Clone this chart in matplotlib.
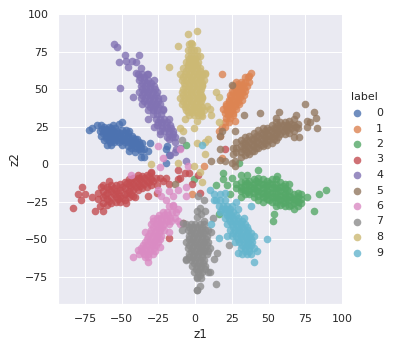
import matplotlib
matplotlib.use('Agg')
import matplotlib.pyplot as plt
import seaborn as sns

## z1, z2 values, one list per label
label_0 = [(-72.5,23),(-70,24),(-67,26),(-64,26),(-62,25),(-59,25),(-56,26),(-52,27),(-50,28),(-65,22),(-62,22),(-59,22),
           (-56,22),(-53,22),(-50,23),(-47,23),(-45,22),(-64,19),(-61,19),(-58,19),(-55,19),(-52,19),(-49,19),(-46,19),
           (-43,19),(-41,17),(-62,16),(-59,16),(-56,16),(-53,16),(-50,16),(-47,16),(-44,16),(-41,15),(-38,15),(-36,14),
           (-60,13),(-57,13),(-50,13),(-46,12),(-43,13),(-40,12),(-37,11),(-35,10),(-45,9),(-41,8),(-37,9),(-37,5),(-35,5),
           (-31,14),(-32,9),(-20,10),(-18,6),(-20,1),(-19,12),
           (-63.5,23.5),(-60.5,23.7),(-57.5,23.8),(-54.5,24),(-51.5,21),(-48.5,21),(-45.5,20.5),(-63,20.5),(-60,20.6),(-57,20.4),
           (-54,20.7),(-60.5,17.5),(-57.5,17.6),(-54.5,17.4),(-51.5,17.5),(-48.5,17.6),(-45.5,17.5),(-42.5,17.4),(-39.5,16.5),
           (-58,14.5),(-55,14.6),(-52,14.4),(-48,14.5),(-45,14.4),(-42,14.3),(-39,13.5),(-37.5,12.8),(-44,10.7),(-41,10.5),(-38.5,10)]
label_1 = [(38,61),(37,59),(18,60),(34,58),(36,58),(28,55),(31,55),(34,55),(37,55),(26,52),(29,52),(32,52),(35,52),
           (25,49),(28,49),(31,49),(34,49),(24,46),(27,46),(30,46),(33,46),(23,43),(26,43),(29,43),(32,43),(21,40),
           (24,40),(27,40),(30,40),(19,37),(22,37),(25,37),(28,37),(20,34),(23,34),(26,34),(21,31),(24,31),(27,29),
           (20,28),(23,28),(18,25),(20,25),(16,22),(17,19),(18,4),(6,-1),(-2,-20),
           (29.5,53.5),(32.5,53.4),(27.5,50.5),(30.5,50.6),(33.5,50.4),(26,47.5),(29,47.6),(32,47.4),(24.5,44.5),(27.5,44.4),
           (30.5,44.6),(23,41.5),(26,41.4),(29,41.6),(21,38.5),(24,38.4),(27,38.6),(21.5,35.5),(24.5,35.6),(22.5,32.5),(25.5,32.4)]
label_2 = [(28,-13),(28,-16),(31,-12),(31,-15),(31,-18),(34,-11),(34,-14),(34,-17),(34,-20),(37,-11),(37,-14),(37,-17),
           (37,-20),(40,-10),(40,-13),(40,-16),(40,-19),(40,-22),(43,-9),(43,-12),(43,-15),(43,-18),(43,-21),(43,-24),
           (46,-10),(46,-13),(46,-16),(46,-19),(46,-22),(46,-25),(49,-11),(49,-14),(49,-17),(49,-20),(49,-23),(52,-10),
           (52,-13),(52,-16),(52,-19),(52,-22),(52,-25),(55,-10),(55,-13),(55,-16),(55,-19),(55,-22),(55,-25),(55,-28),
           (58,-12),(58,-15),(58,-18),(58,-21),(58,-24),(58,-27),(61,-13),(61,-16),(61,-19),(61,-22),(61,-25),(61,-28),
           (64,-18),(64,-21),(64,-24),(64,-28),(67,-20),(67,-23),(67,-26),(67,-30),(70,-19),(70,-22),(70,-25),(70,-28),
           (72,-20),(72,-23),(72,-26),(89,-17),(84,-20),(81,-31),(76,-22),(54,-33),(53,-38),(43,-4),(56,-8),(64,-13),
           (35,-7),(31,-7),(19,-6),(19,-10),(14,-14),(25,-9),(22,-14),(31,-22),(24,-20),(16,-33),(30,1),(-1,-10),(-6,13),
           (35.5,-12.5),(38.5,-15.5),(41.5,-11.5),(41.5,-17.5),(44.5,-13.5),(44.5,-19.5),(47.5,-15),(47.5,-21),(50.5,-12.5),
           (50.5,-18.5),(50.5,-24),(53.5,-15),(53.5,-21),(56.5,-17),(56.5,-23),(59.5,-14.5),(59.5,-20.5),(59.5,-26),(62.5,-17.5),
           (62.5,-23.5),(65.5,-22),(65.5,-27),(68.5,-24),(32,-16.5),(36,-18.5)]
label_3 = [(-83,-29),(-80,-20),(-77,-15),(-78,-24),(-75,-20),(-70,-22),(-68,-31),(-63,-31),(-65,-28),(-59,-11),(-64,-15),
           (-39,-7),(-30,-5),(-24,-9),(-20,-9),(-18,-13),(-12,-4),(-7,-6),(-4,-6),(-12,-10),(-10,-9),(-2,-13),(2,-7),
           (-32,-21),(-26,-19),(-47,-26),(-41,-22),(-18,-49),(-8,-39),(20,10),(3,-19),(-66,-19),(-66,-23),(-63,-14),
           (-63,-18),(-63,-22),(-63,-26),(-60,-15),(-60,-19),(-60,-23),(-60,-27),(-57,-14),(-57,-18),(-57,-22),(-57,-26),
           (-54,-14),(-54,-18),(-54,-22),(-54,-25),(-51,-13),(-51,-17),(-51,-21),(-51,-25),(-48,-12),(-48,-16),(-48,-20),
           (-48,-24),(-45,-10),(-45,-14),(-45,-18),(-45,-22),(-42,-9),(-42,-13),(-42,-17),(-42,-21),(-39,-9),(-39,-13),
           (-39,-17),(-36,-8),(-36,-12),(-36,-16),(-33,-7),(-33,-11),(-33,-15),(-30,-6),(-30,-10),(-30,-14),(-27,-9),
           (-26,-14),(-22,-11),
           (-61.5,-20.5),(-58.5,-16.5),(-58.5,-24.5),(-55.5,-20),(-55.5,-16),(-52.5,-19),(-52.5,-23),(-49.5,-15),(-49.5,-22.5),
           (-46.5,-12.5),(-46.5,-19),(-43.5,-11.5),(-43.5,-15.5),(-43.5,-20),(-40.5,-11),(-40.5,-15),(-37.5,-10),(-37.5,-14.5),
           (-34.5,-9),(-34.5,-13),(-31.5,-8),(-31.5,-12),(-28.5,-11.5)]
label_4 = [(-55,80),(-53,78),(-48,73),(-38,73),(-52,68),(-46,65),(-47,69),(-43,69),(-40,68),(-37,64),(-40,61),(-32,60),
           (-28,56),(-51,51),(-42,45),(-22,44),(-22,37),(-32,30),(-28,25),(-24,20),(-18,17),(-14,15),(-17,6),(-14,8),(-6,2),
           (-39,60),(-36,60),(-33,60),(-38,56),(-35,56),(-32,56),(-37,52),(-34,52),(-31,52),(-28,52),(-38,48),(-35,48),
           (-32,48),(-29,48),(-26,48),(-37,44),(-34,44),(-31,44),(-28,44),(-25,44),(-36,40),(-33,40),(-30,40),(-27,40),
           (-24,40),(-32,36),(-29,36),(-26,36),(-22,36),(-27,30),(-24,30),(-21,30),(-18,30),(-26,26),(-23,26),(-20,26),
           (-17,26),(-24,22),(-21,22),(-18,22),(-15,22),(-19,18),(-16,18),(-14,18),(-10,11),(-13,10),
           (-37.5,58),(-34.5,58),(-36,54),(-33,54),(-30,54),(-36.5,50),(-33.5,50),(-30.5,50),(-27.5,50),(-36,46),(-33,46),
           (-30,46),(-27,46),(-34.5,42),(-31.5,42),(-28.5,42),(-25.5,42),(-31,38),(-28,38),(-25,38),(-29,33.5),(-26,33.5),(-23,33.5),
           (-25.5,28),(-22.5,28),(-19.5,28),(-22.5,24),(-19.5,24),(-16.5,24),(-18,20),(-15,20)]
label_5 = [(75,40),(81,35),(82,31),(83,24),(57,35),(44,34),(33,33),(55,31),(69,33),(25,53),(27,22),(18,22),(17,19),(17,10),
           (17,3),(11,2),(20,2),(27,2),(26,7),(28,15),(26,11),(71,18),(67,18),(76,25),(78,28),(76,29),(-14,-13),
           (28,11),(28,8),(31,16),(31,12),(31,8),(31,5),(34,18),(34,14),(34,10),(34,6),(37,19),(37,15),(37,11),(37,7),
           (40,21),(40,17),(40,13),(40,9),(43,23),(43,19),(43,15),(43,11),(46,24),(46,20),(46,16),(46,12),(49,24),(49,20),
           (49,16),(49,13),(52,26),(52,22),(52,18),(52,14),(55,28),(55,24),(55,20),(55,16),(58,28),(58,24),(58,20),(61,28),
           (61,24),(61,20),(64,29),(64,25),(64,21),(67,30),(67,26),(67,22),(70,27),(70,24),(27,-1),(25,1),
           (32.5,14),(32.5,10),(35.5,16),(35.5,12),(35.5,8),(38.5,17),(38.5,13),(38.5,9),(41.5,19),(41.5,15),(41.5,11),(44.5,21),
           (44.5,17),(44.5,13),(47.5,22),(47.5,18),(47.5,14),(50.5,23),(50.5,19),(50.5,16),(53.5,24),(53.5,20),(53.5,17),(56.5,26),
           (56.5,22),(56.5,18),(59.5,26),(59.5,22),(62.5,26),(62.5,23),(65.5,27),(65.5,24),(68.5,25)]
label_6 = [(-42,-62),(-32,-65),(-39,-57),(-24,-55),(-34,-45),(-18,-45),(-12,-38),(-10,-40),(-12,-30),(-15,-27),(-15,-21),
           (-18,-18),(-25,-17),(-23,-21),(-20,-24),(-44,-7),(-22,4),(-24,-2),(-5,-1),(-6,-21),(-6,-15),(-12,-17),(-25,12),
           (-10,10),(-18,-28),(-15,-28),(-22,-32),(-19,-32),(-16,-32),(-13,-32),(-29,-36),(-26,-36),(-23,-36),(-20,-36),
           (-17,-36),(-14,-36),(-30,-40),(-27,-40),(-24,-40),(-21,-40),(-18,-40),(-30,-44),(-27,-44),(-24,-44),(-21,-44),
           (-32,-48),(-29,-48),(-26,-48),(-23,-48),(-34,-52),(-31,-52),(-28,-52),(-25,-52),(-37,-56),(-34,-56),(-31,-56),
           (-28,-56),(-38,-60),(-35,-60),(-32,-60),(-29,-60),(-34,-62),(-32,-62),
           (-24.5,-34),(-21.5,-34),(-18.5,-34),(-28.5,-38),(-25.5,-38),(-22.5,-38),(-19.5,-38),(-16.5,-38),(-28.5,-42),(-25.5,-42),
           (-22.5,-42),(-30.5,-46),(-27.5,-46),(-24.5,-46),(-33,-50),(-30,-50),(-27,-50),(-24,-50),(-35.5,-54),(-32.5,-54),(-29.5,-54),
           (-26.5,-54),(-36.5,-58),(-33.5,-58),(-30.5,-58),(-27.5,-58)]
label_7 = [(-8,-39),(-9,-44),(-6,-63),(1,-84),(1,-75),(14,-80),(3,-81),(1,-84),(10,-72),(13,-63),(15,-59),(23,-54),(11,-45),
           (12,-36),(6,-38),(7,-31),(6,-24),(2,-21),(1,-31),(3,-29),(4,-33),(1,-35),(-9,16),
           (-6,-40),(-3,-40),(0,-40),(3,-40),(6,-40),(-5,-44),(-2,-44),(1,-44),(4,-44),(7,-44),(9,-44),(-4,-48),(-1,-48),
           (2,-48),(5,-48),(8,-48),(-6,-52),(-3,-52),(0,-52),(3,-52),(6,-52),(9,-52),(-5,-56),(-2,-56),(1,-56),(4,-56),
           (7,-56),(10,-56),(-4,-60),(-1,-60),(2,-60),(5,-60),(8,-60),(-6,-64),(-3,-64),(0,-64),(3,-64),(6,-64),(-2,-68),
           (1,-68),(4,-68),(7,-68),(-1,-72),(2,-72),(5,-72),(9,-72),(1,-76),(4,-76),
           (-4.5,-42),(-1.5,-42),(1.5,-42),(4.5,-42),(-3,-46),(0,-46),(3,-46),(6,-46),(-4.5,-50),(-1.5,-50),(1.5,-50),(4.5,-50),(7.5,-50),
           (-4,-54),(-1,-54),(2,-54),(5,-54),(8,-54),(-3,-58),(0,-58),(3,-58),(6,-58),(9,-58),(-4.5,-62),(-1.5,-62),(1.5,-62),(4.5,-62),
           (-0.5,-66),(2.5,-66),(5.5,-66),(0.5,-70),(3.5,-70),(6.5,-70),(3,-74)]
label_8 = [(1.4,89),(-5,87),(-12,79),(-3,81),(-18,65),(7,61),(5,53),(5,45),(8,39),(10,37),(11,33),(5,32),(16,28),(14,48),
           (16,45),(9,17),(7,15),(1,14),(7,7),(-12,1),(-30,0),(-1,-1),(3,-5),(5,-12),(-7,30),(-10,24),(-8,22),(-1,24),(1,29),
           (-4,80),(-2,80),(-5,76),(-3,76),(-1,76),(1,76),(-5,72),(-3,72),(-1,72),(1,72),(3,72),(-6,68),(-4,68),(-2,68),(0,68),
           (2,68),(-8,64),(-5,64),(-2,64),(1,64),(3,64),(-10,60),(-7,60),(-4,60),(-1,60),(2,60),(5,60),(7,60),(-9,56),(-6,56),
           (-3,56),(0,56),(3,56),(6,56),(-7,52),(-4,52),(-1,52),(2,52),(5,52),(-9,48),(-6,48),(-3,48),(0,48),(3,48),(-10,44),
           (-7,44),(-4,44),(-1,44),(2,44),(5,44),(-9,40),(-6,40),(-3,40),(0,40),(3,40),(-6,36),(-3,36),(0,36),(3,36),(6,36),
           (-4,33),(-1,33),(2,33),(4,33),
           (-4,70),(-2,70),(0,70),(-5,66),(-3,66),(-1,66),(1,66),(-6,62),(-3,62),(0,62),(3,62),(-8,58),(-5,58),(-2,58),(1,58),(4,58),
           (-7.5,54),(-4.5,54),(-1.5,54),(1.5,54),(4.5,54),(-8,50),(-5,50),(-2,50),(1,50),(4,50),(-8,46),(-5,46),(-2,46),(1,46),(4,46),
           (-8,42),(-5,42),(-2,42),(1,42),(4,42),(-7,38),(-4,38),(-1,38),(2,38),(5,38),(-5,34.5),(-2,34.5),(1,34.5),(4,34.5)]
label_9 = [(10,-17),(20,-19),(13,-24),(38,-28),(28,-25),(29,-30),(11,-40),(16,-49),(49,-50),(40,-65),(29,-59),(42,-58),(33,-36),
           (5,13),(13,-20),(17,-20),(14,-24),(17,-24),(20,-24),(16,-28),(19,-28),(22,-28),(25,-28),(17,-32),(20,-32),(23,-32),
           (26,-32),(20,-36),(23,-36),(26,-36),(29,-36),(22,-40),(25,-40),(28,-40),(31,-40),(34,-40),(24,-44),(27,-44),(30,-44),
           (33,-44),(36,-44),(22,-48),(25,-48),(28,-48),(31,-48),(34,-48),(37,-48),(40,-48),(27,-52),(30,-52),(33,-52),(36,-52),
           (39,-52),(31,-56),(34,-56),(37,-56),(40,-56),(32,-60),(35,-60),(38,-60),
           (18,-30),(21,-30),(24,-30),(21.5,-34),(24.5,-34),(27.5,-34),(23.5,-38),(26.5,-38),(29.5,-38),(32,-38),(26,-42),(29,-42),(32,-42),
           (35,-42),(26,-46),(29,-46),(32,-46),(35,-46),(38,-46),(29,-50),(32,-50),(35,-50),(38,-50),(32,-54),(35,-54),(38,-54),(34,-58),(37,-58)]

labels = ['0', '1', '2', '3', '4', '5', '6', '7', '8', '9']
series = [label_0, label_1, label_2, label_3, label_4, label_5, label_6, label_7, label_8, label_9]
xticks = [-75, -50, -25, 0, 25, 50, 75, 100]
yticks = [-75, -50, -25, 0, 25, 50, 75, 100]

sns.set_theme()
plt.rcParams['font.family'] = 'DejaVu Sans'
palette = sns.color_palette('deep')

fig = plt.figure(figsize=(394 / 72, 348 / 72), dpi=72)
ax = fig.add_axes([58 / 394, 1 - 304 / 348, 284 / 394, 290 / 348])

for name, pts, col in zip(labels, series, palette):
    ax.scatter([p[0] for p in pts], [p[1] for p in pts], s=58, color=col, alpha=0.8, linewidths=0, label=name)

ax.set_xlim(-93.4, 100)
ax.set_ylim(-93.2, 100)
ax.set_xticks(xticks)
ax.set_yticks(yticks)
ax.set_xlabel('z1', fontsize=12, labelpad=4)
ax.set_ylabel('z2', fontsize=12, labelpad=4)
ax.tick_params(labelsize=11)
ax.spines['top'].set_visible(False)
ax.spines['right'].set_visible(False)

handles, names = ax.get_legend_handles_labels()
fig.legend(handles, names, title='label', frameon=False, loc='center left', bbox_to_anchor=(340.5 / 394, 1 - 175 / 348),
           fontsize=11, title_fontsize=11, labelspacing=0.5, handletextpad=0.75, borderpad=0)

fig.savefig('out.png', dpi=72)
